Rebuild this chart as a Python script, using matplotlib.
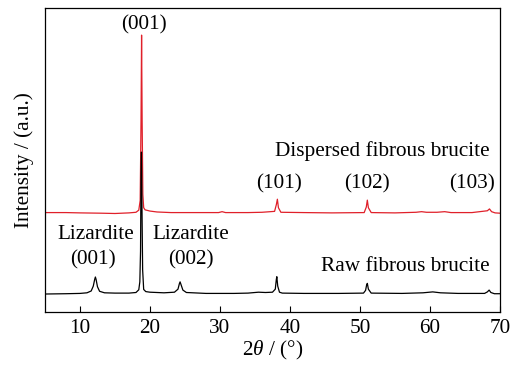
import matplotlib
matplotlib.use("Agg")
import matplotlib.pyplot as plt

# 2theta (deg) and relative intensity (baseline ~ 0)
raw_x = [5.0, 8.0, 10.0, 11.0, 11.6, 11.9, 12.1, 12.2, 12.3, 12.5, 12.8, 13.5, 15.0, 17.0,
         18.0, 18.4, 18.55, 18.65, 18.72, 18.78, 18.85, 18.95, 19.1, 19.4, 20.0, 22.0,
         23.5, 24.0, 24.2, 24.3, 24.45, 24.7, 25.2, 28.0, 32.0, 34.0, 35.5, 36.5, 37.5,
         37.9, 38.05, 38.12, 38.25, 38.5, 38.9, 42.0, 47.0, 50.5, 50.8, 50.95, 51.05,
         51.2, 51.6, 56.0, 59.0, 60.4, 61.5, 64.0, 67.8, 68.2, 68.45, 68.7, 69.2, 70.0]
raw_y = [0.0, 0.1, 0.2, 0.4, 1.0, 2.6, 4.8, 5.6, 4.8, 2.4, 0.9, 0.4, 0.3, 0.3,
         0.5, 1.4, 4.0, 14.0, 40.0, 46.7, 30.0, 8.0, 1.5, 0.8, 0.6, 0.4,
         0.6, 1.6, 3.4, 4.0, 3.0, 1.3, 0.5, 0.2, 0.2, 0.3, 0.6, 0.5, 0.6,
         1.6, 4.8, 5.7, 2.6, 0.6, 0.3, 0.2, 0.2, 0.3, 1.2, 3.0, 3.5,
         1.6, 0.3, 0.2, 0.4, 0.7, 0.4, 0.2, 0.2, 0.7, 1.3, 0.5, 0.1, 0.1]

disp_x = [5.0, 8.0, 10.0, 13.0, 15.0, 17.0, 18.0, 18.4, 18.6, 18.72, 18.8, 18.88, 18.98,
          19.1, 19.3, 20.0, 21.0, 23.0, 26.0, 29.8, 30.3, 30.8, 34.0, 36.0, 37.8, 38.05,
          38.2, 38.35, 38.7, 42.0, 46.0, 50.6, 50.9, 51.05, 51.2, 51.6, 55.0, 58.0, 58.8,
          59.5, 61.0, 62.1, 63.0, 66.0, 68.2, 68.5, 68.8, 69.3, 70.0]
disp_y = [0.0, 0.0, -0.1, -0.2, -0.3, -0.1, 0.1, 0.8, 4.0, 30.0, 58.4, 30.0, 6.0,
          1.6, 0.9, 0.5, 0.2, 0.0, 0.0, 0.0, 0.3, 0.0, 0.0, 0.1, 0.4, 2.6,
          4.4, 1.6, 0.1, 0.0, -0.1, 0.0, 1.8, 4.1, 1.6, 0.0, -0.1, 0.1, 0.3,
          0.1, 0.1, 0.3, 0.0, 0.0, 0.6, 1.2, 0.3, -0.1, -0.2]

xticks = [10, 20, 30, 40, 50, 60, 70]

plt.rcParams['font.family'] = ['Liberation Serif', 'DejaVu Serif']
plt.rcParams['mathtext.fontset'] = 'custom'
plt.rcParams['mathtext.rm'] = 'Liberation Serif'
plt.rcParams['mathtext.it'] = 'Liberation Serif:italic'

fig = plt.figure(figsize=(5.2, 3.67), dpi=100)
ax = fig.add_axes([0.0865, 0.150, 0.875, 0.828])

raw_off = 5.9
disp_off = 32.7
ax.plot(disp_x, [v + disp_off for v in disp_y], color='#e0202a', lw=0.9)
ax.plot(raw_x, [v + raw_off for v in raw_y], color='black', lw=0.9)

fs = 15.3
ax.set_xlim(5, 70)
ax.set_ylim(0, 100)
ax.set_xticks(xticks)
ax.set_yticks([])
ax.tick_params(axis='x', direction='in', length=4, width=0.8, labelsize=fs, pad=5)
for s in ax.spines.values():
    s.set_linewidth(0.9)

ax.set_xlabel(r'2$\theta$ / (°)', fontsize=fs, labelpad=1)
ax.set_ylabel('Intensity / (a.u.)', fontsize=fs, labelpad=8)

ax.text(19.2, 94.4, '(001)', ha='center', va='center', fontsize=fs)
ax.text(53.2, 53.1, 'Dispersed fibrous brucite', ha='center', va='center', fontsize=fs)
ax.text(38.4, 42.0, '(101)', ha='center', va='center', fontsize=fs)
ax.text(50.95, 42.0, '(102)', ha='center', va='center', fontsize=fs)
ax.text(66.0, 42.0, '(103)', ha='center', va='center', fontsize=fs)
ax.text(12.3, 25.6, 'Lizardite', ha='center', va='center', fontsize=fs)
ax.text(11.8, 17.1, '(001)', ha='center', va='center', fontsize=fs)
ax.text(25.9, 25.6, 'Lizardite', ha='center', va='center', fontsize=fs)
ax.text(25.9, 17.1, '(002)', ha='center', va='center', fontsize=fs)
ax.text(56.5, 14.9, 'Raw fibrous brucite', ha='center', va='center', fontsize=fs)

fig.savefig('out.png', dpi=100)
